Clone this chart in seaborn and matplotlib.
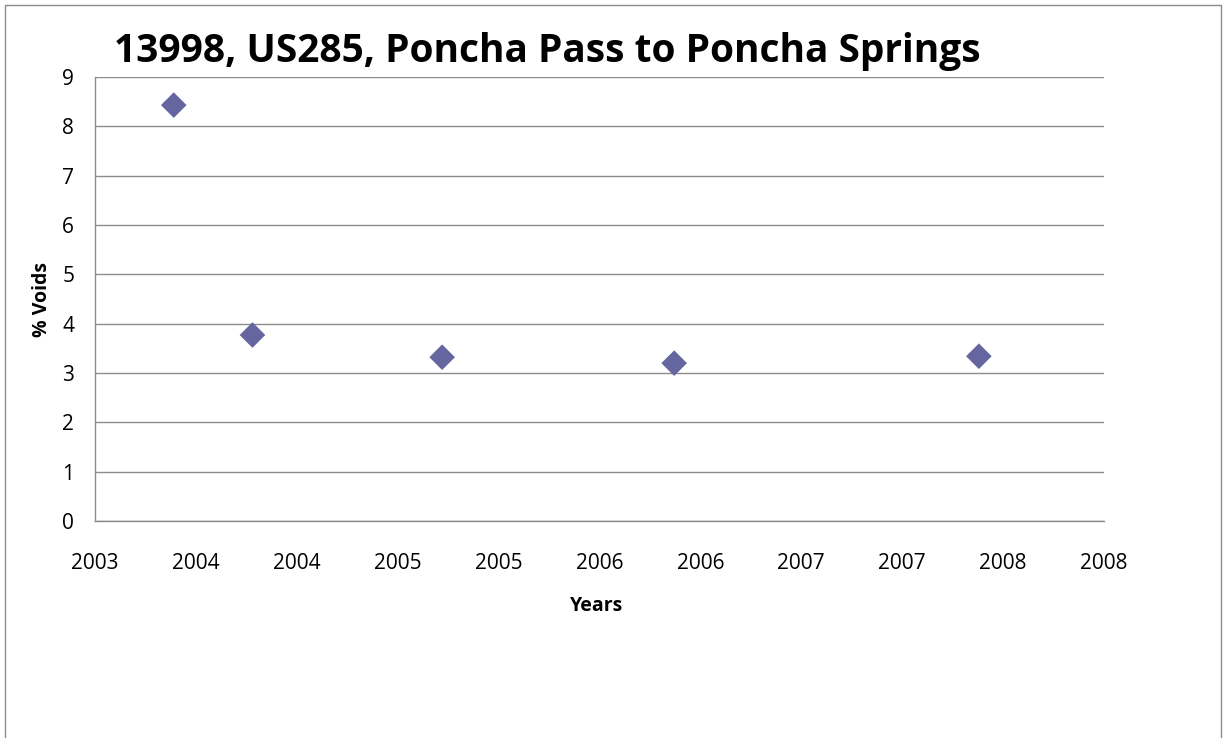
import numpy as np
import pandas as pd
import matplotlib
matplotlib.use("Agg")
import matplotlib.pyplot as plt
import seaborn as sns
from matplotlib.patches import Rectangle

# values
years = [2003.39, 2003.78, 2004.72, 2005.87, 2007.38]
voids = [8.43, 3.77, 3.32, 3.20, 3.34]
x_ticks = [2003.0, 2003.5, 2004.0, 2004.5, 2005.0, 2005.5, 2006.0, 2006.5, 2007.0, 2007.5, 2008.0]
x_tick_labels = ["2003", "2004", "2004", "2005", "2005", "2006", "2006", "2007", "2007", "2008", "2008"]
y_ticks = [0, 1, 2, 3, 4, 5, 6, 7, 8, 9]

df = pd.DataFrame({"Years": years, "% Voids": voids})

sns.set_style("white")
plt.rcParams["font.family"] = ["Open Sans", "DejaVu Sans"]
plt.rcParams["text.color"] = "black"
plt.rcParams["axes.labelcolor"] = "black"
plt.rcParams["xtick.color"] = "black"
plt.rcParams["ytick.color"] = "black"

fig = plt.figure(figsize=(12.25, 7.38), dpi=100)
ax = fig.add_axes([0.0776, 0.2940, 0.8236, 0.6017])

sns.scatterplot(data=df, x="Years", y="% Voids", marker="D", s=170,
                color="#65659f", edgecolor="none", ax=ax, zorder=3)

ax.set_xlim(2003, 2008)
ax.set_ylim(0, 9)
ax.set_xticks(x_ticks)
ax.set_xticklabels(x_tick_labels, fontsize=15)
ax.set_yticks(y_ticks)
ax.set_yticklabels([str(v) for v in y_ticks], fontsize=15)
ax.tick_params(axis="both", length=0)
ax.tick_params(axis="x", pad=23)
ax.tick_params(axis="y", pad=15)

ax.grid(axis="y", color="#8c8c8c", linewidth=1)
ax.grid(axis="x", visible=False)
for side in ["top", "right"]:
    ax.spines[side].set_visible(False)
for side in ["left", "bottom"]:
    ax.spines[side].set_color("#8c8c8c")
    ax.spines[side].set_linewidth(1)

ax.set_xlabel("Years", fontsize=14, fontweight="bold")
ax.set_ylabel("% Voids", fontsize=14, fontweight="bold")
ax.xaxis.set_label_coords(0.497, -0.168)
ax.yaxis.set_label_coords(-0.043, 0.5)

fig.text(0.447, 0.930, "13998, US285, Poncha Pass to Poncha Springs",
         ha="center", va="center", fontsize=28, fontweight="bold")

# chart border
fig.patches.append(Rectangle((0.004, -0.01), 0.993, 1.003, transform=fig.transFigure,
                             fill=False, edgecolor="#8c8c8c", linewidth=1))

fig.savefig("out.png", dpi=100)
